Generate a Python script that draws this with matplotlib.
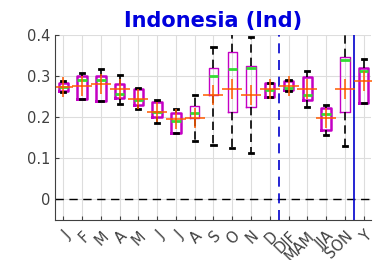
import numpy as np
import matplotlib; matplotlib.use("Agg"); import matplotlib.pyplot as plt

labels = ["J", "F", "M", "A", "M", "J", "J", "A", "S", "O", "N", "D", "DJF", "MAM", "JJA", "SON", "Y"]
q1     = [0.263, 0.244, 0.239, 0.248, 0.230, 0.200, 0.162, 0.197, 0.255, 0.213, 0.225, 0.249, 0.266, 0.242, 0.170, 0.214, 0.234]
q3     = [0.283, 0.300, 0.300, 0.280, 0.268, 0.236, 0.210, 0.228, 0.319, 0.358, 0.325, 0.283, 0.289, 0.297, 0.222, 0.347, 0.321]
med    = [0.273, 0.291, 0.291, 0.257, 0.242, 0.213, 0.190, 0.210, 0.301, 0.317, 0.319, 0.266, 0.272, 0.255, 0.208, 0.339, 0.313]
mean   = [0.273, 0.275, 0.280, 0.269, 0.245, 0.214, 0.196, 0.198, 0.255, 0.268, 0.255, 0.268, 0.276, 0.268, 0.197, 0.268, 0.288]
wlo    = [0.261, 0.244, 0.239, 0.232, 0.220, 0.187, 0.162, 0.143, 0.133, 0.124, 0.113, 0.249, 0.265, 0.226, 0.158, 0.129, 0.234]
whi    = [0.288, 0.307, 0.317, 0.303, 0.272, 0.241, 0.221, 0.254, 0.372, 0.420, 0.396, 0.284, 0.291, 0.313, 0.230, 0.420, 0.341]
thin = {7, 8, 9, 10, 15}

fig = plt.figure(figsize=(3.76, 2.60), dpi=100)
ax = fig.add_axes([0.146, 0.154, 0.841, 0.711])
ax.grid(True, color="#dddddd", lw=0.8, zorder=0)
ax.set_axisbelow(True)

stats = [dict(q1=a, q3=b, med=m, mean=mu, whislo=lo, whishi=hi, fliers=[])
         for a, b, m, mu, lo, hi in zip(q1, q3, med, mean, wlo, whi)]
pos = np.arange(1, len(labels) + 1)
art = ax.bxp(stats, positions=pos, widths=0.5, showmeans=True, showfliers=False,
             boxprops=dict(color="#c400c4", lw=1.8),
             medianprops=dict(color="#33dd33", lw=2.0),
             whiskerprops=dict(color="k", lw=1.2, ls=(0, (5, 3))),
             capprops=dict(color="k", lw=2.0), capwidths=0.22,
             meanprops=dict(marker="+", markeredgecolor="#ff5a00", markersize=14, mew=1.1))
for i, b in enumerate(art["boxes"]):
    if i in thin:
        b.set_linewidth(1.0)

ax.axhline(0, color="k", lw=1.0, ls=(0, (6, 4)), zorder=1)
ax.axvline(12.5, color="#0000cc", lw=1.2, ls=(0, (6, 4)))
ax.axvline(16.5, color="#0000cc", lw=1.2)

ax.set_xlim(0.55, 17.4)
ax.set_ylim(-0.05, 0.4)
ax.set_yticks([0, 0.1, 0.2, 0.3, 0.4])
ax.set_yticklabels(["0", "0.1", "0.2", "0.3", "0.4"])
ax.set_xticks(pos)
ax.set_xticklabels(labels, rotation=45, ha="right", rotation_mode="anchor")
ax.tick_params(direction="in", length=3, colors="#404040", labelsize=10.5)
ax.tick_params(axis="x", pad=6)
for s in ("top", "right"):
    ax.spines[s].set_visible(False)
for s in ("left", "bottom"):
    ax.spines[s].set_color("#404040")
ax.set_title("Indonesia (Ind)", color="#0000dd", fontweight="bold", fontsize=15, pad=6)

fig.savefig("out.png", dpi=100)
